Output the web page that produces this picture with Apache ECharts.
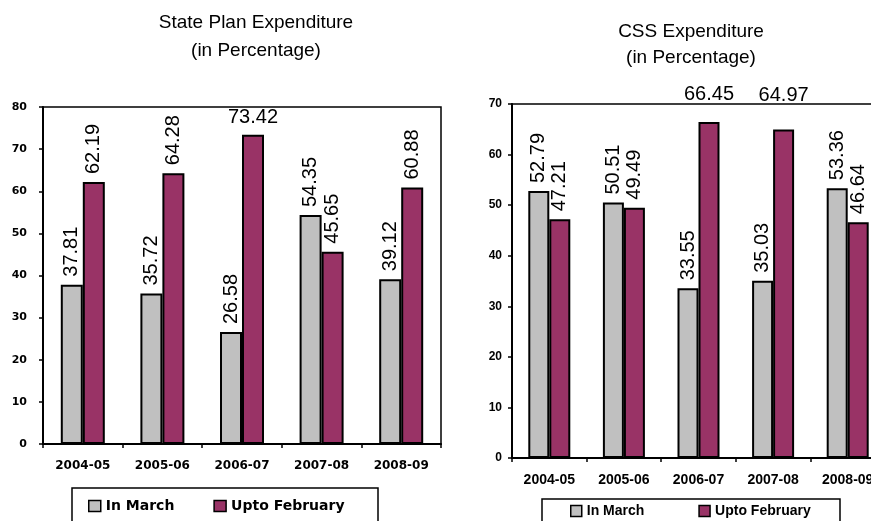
<!DOCTYPE html>
<html><head><meta charset="utf-8">
<script src="https://cdn.jsdelivr.net/npm/echarts@6/dist/echarts.min.js"></script>
<style>html,body{margin:0;padding:0;background:#fff}#c{width:871px;height:521px}</style>
</head><body><div id="c"></div>
<script>
const categories = ['2004-05', '2005-06', '2006-07', '2007-08', '2008-09'];
const stateInMarch = [37.81, 35.72, 26.58, 54.35, 39.12];
const stateUptoFeb = [62.19, 64.28, 73.42, 45.65, 60.88];
const cssInMarch = [52.79, 50.51, 33.55, 35.03, 53.36];
const cssUptoFeb = [47.21, 49.49, 66.45, 64.97, 46.64];
const seriesNames = ['In March', 'Upto February'];
const leftTitle = ['State Plan Expenditure', '(in Percentage)'];
const rightTitle = ['CSS Expenditure', '(in Percentage)'];

const GRAY = '#C0C0C0', PURPLE = '#993366';
const AR = 'Liberation Sans, Arial, sans-serif';
const DJ = 'DejaVu Sans, sans-serif';

function horizLabel(dist) {
  return { label: { rotate: 0, align: 'center', verticalAlign: 'bottom', distance: dist } };
}
function build(values, overrides) {
  return values.map((v, i) => overrides && overrides[i] ? Object.assign({ value: v }, overrides[i]) : v);
}
const baseLabel = {
  show: true, position: 'top', rotate: 90, align: 'left', verticalAlign: 'middle',
  distance: 8, color: '#000', fontFamily: AR, fontSize: 20,
  formatter: p => Number(p.value).toFixed(2)
};
function bar(name, color, values, axisIdx, width, overrides) {
  return {
    type: 'bar', name: name, xAxisIndex: axisIdx, yAxisIndex: axisIdx,
    barWidth: width, barGap: '0%',
    itemStyle: { color: color, borderColor: '#000', borderWidth: 2 },
    label: baseLabel,
    data: build(values, overrides),
    animation: false
  };
}

const axisLine = { show: true, lineStyle: { color: '#000', width: 2 } };
const axisTick = { show: true, length: 4, lineStyle: { color: '#000', width: 1.5 } };

const option = {
  backgroundColor: '#fff',
  animation: false,
  grid: [
    { left: 43, top: 107, width: 398, height: 337, show: true, borderColor: '#000', borderWidth: 1.5, backgroundColor: 'transparent', outerBoundsMode: 'none', containLabel: false },
    { left: 512, top: 104, width: 373, height: 354, show: true, borderColor: '#000', borderWidth: 1.5, backgroundColor: 'transparent', outerBoundsMode: 'none', containLabel: false }
  ],
  xAxis: [
    { type: 'category', gridIndex: 0, data: categories, axisLine, axisTick,
      axisLabel: { color: '#000', fontFamily: DJ, fontWeight: 'bold', fontSize: 12, margin: 16, interval: 0 } },
    { type: 'category', gridIndex: 1, data: categories, axisLine, axisTick,
      axisLabel: { color: '#000', fontFamily: AR, fontWeight: 'bold', fontSize: 14, margin: 15, interval: 0 } }
  ],
  yAxis: [
    { type: 'value', gridIndex: 0, min: 0, max: 80, interval: 10, axisLine, axisTick, splitLine: { show: false },
      axisLabel: { color: '#000', fontFamily: DJ, fontWeight: 'bold', fontSize: 11, margin: 16 } },
    { type: 'value', gridIndex: 1, min: 0, max: 70, interval: 10, axisLine, axisTick, splitLine: { show: false },
      axisLabel: { color: '#000', fontFamily: AR, fontWeight: 'bold', fontSize: 12, margin: 10 } }
  ],
  legend: [
    { data: seriesNames, left: 88, top: 499, padding: 0, itemWidth: 12, itemHeight: 11, itemGap: 39,
      icon: 'rect', itemStyle: { borderColor: '#000', borderWidth: 1.5 },
      textStyle: { color: '#000', fontFamily: DJ, fontWeight: 'bold', fontSize: 14 } },
    { data: seriesNames, left: 570, top: 504, padding: 0, itemWidth: 11, itemHeight: 11, itemGap: 54,
      icon: 'rect', itemStyle: { borderColor: '#000', borderWidth: 1.5 },
      textStyle: { color: '#000', fontFamily: AR, fontWeight: 'bold', fontSize: 14 } }
  ],
  graphic: [
    { type: 'text', x: 256, y: 23, style: { text: leftTitle[0], align: 'center', verticalAlign: 'middle', font: '19px ' + AR, fill: '#000' } },
    { type: 'text', x: 256, y: 51, style: { text: leftTitle[1], align: 'center', verticalAlign: 'middle', font: '19px ' + AR, fill: '#000' } },
    { type: 'text', x: 691, y: 32, style: { text: rightTitle[0], align: 'center', verticalAlign: 'middle', font: '19px ' + AR, fill: '#000' } },
    { type: 'text', x: 691, y: 58, style: { text: rightTitle[1], align: 'center', verticalAlign: 'middle', font: '19px ' + AR, fill: '#000' } },
    { type: 'rect', shape: { x: 72, y: 488, width: 306, height: 60 }, style: { fill: 'none', stroke: '#000', lineWidth: 1.5 }, silent: true },
    { type: 'rect', shape: { x: 542, y: 499, width: 298, height: 50 }, style: { fill: 'none', stroke: '#000', lineWidth: 1.5 }, silent: true }
  ],
  series: [
    bar(seriesNames[0], GRAY, stateInMarch, 0, 22),
    bar(seriesNames[1], PURPLE, stateUptoFeb, 0, 22, { 2: horizLabel(7) }),
    bar(seriesNames[0], GRAY, cssInMarch, 1, 21),
    bar(seriesNames[1], PURPLE, cssUptoFeb, 1, 21, { 2: horizLabel(17), 3: horizLabel(24) })
  ]
};
const chart = echarts.init(document.getElementById('c'), null, { renderer: 'canvas' });
chart.setOption(option);
</script>
</body></html>
